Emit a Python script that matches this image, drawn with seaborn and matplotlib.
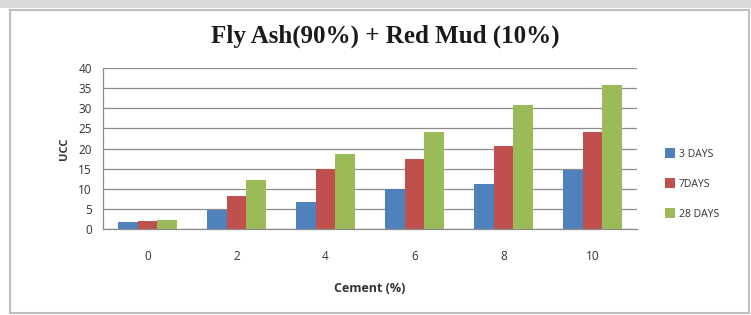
import numpy as np
import pandas as pd
import seaborn as sns
import matplotlib.pyplot as plt
from matplotlib.patches import Rectangle

cement = ["0", "2", "4", "6", "8", "10"]
days3 = [1.7, 4.6, 6.8, 9.9, 11.2, 14.6]
days7 = [2.0, 8.2, 14.9, 17.5, 20.7, 24.0]
days28 = [2.3, 12.2, 18.7, 24.0, 30.8, 35.7]
series = ["3 DAYS", "7DAYS", "28 DAYS"]
colors = ["#4F81BD", "#C0504D", "#9BBB59"]

df = pd.DataFrame({
    "Cement": cement * 3,
    "UCC": days3 + days7 + days28,
    "Curing": [s for s in series for _ in cement],
})

sns.set_style("white")
plt.rcParams["font.family"] = ["Open Sans", "DejaVu Sans"]

fig = plt.figure(figsize=(7.51, 3.15), dpi=100)
fig.patch.set_facecolor("white")

# outer frame like the Excel chart box
fig.patches.append(Rectangle((0, 1 - 8 / 315), 1, 8 / 315, transform=fig.transFigure,
                             facecolor="#d9d9d9", edgecolor="none", zorder=-2))
fig.patches.append(Rectangle((10 / 751, 2 / 315), 739 / 751, 303 / 315, transform=fig.transFigure,
                             facecolor="white", edgecolor="#bfbfbf", lw=1.5, zorder=-1))

ax = fig.add_axes([103 / 751, 1 - 229 / 315, 534 / 751, 161 / 315])
ax.patch.set_alpha(0)
sns.barplot(data=df, x="Cement", y="UCC", hue="Curing", palette=colors,
            width=0.67, saturation=1, linewidth=0, ax=ax)

ax.set_ylim(0, 40)
ax.set_yticks(range(0, 41, 5))
ax.yaxis.grid(True, color="#8c8c8c", lw=0.9)
ax.set_axisbelow(True)
for s in ["top", "right"]:
    ax.spines[s].set_visible(False)
for s in ["left", "bottom"]:
    ax.spines[s].set_color("#8c8c8c")
    ax.spines[s].set_linewidth(0.9)
ax.tick_params(axis="y", length=4, color="#8c8c8c", labelsize=8.5, pad=4, labelcolor="#333333")
ax.tick_params(axis="x", length=0, labelsize=8.5, pad=15, labelcolor="#333333")

ax.set_xlabel("Cement (%)", fontsize=9, fontweight="bold", labelpad=14, color="#333333")
ax.set_ylabel("UCC", fontsize=8, fontweight="bold", labelpad=6, color="#333333")

fig.text(0.513, 1 - 36 / 315, "Fly Ash(90%) + Red Mud (10%)", ha="center", va="center",
         fontsize=18, fontweight="bold", family="Liberation Serif", color="#1a1a1a")

ax.legend(title=None, frameon=False, fontsize=7.5, loc="center left",
          bbox_to_anchor=(1.035, 0.28), labelspacing=1.8, handlelength=1.0,
          handleheight=1.0, handletextpad=0.3, labelcolor="#333333")

fig.savefig("out.png", dpi=100)
